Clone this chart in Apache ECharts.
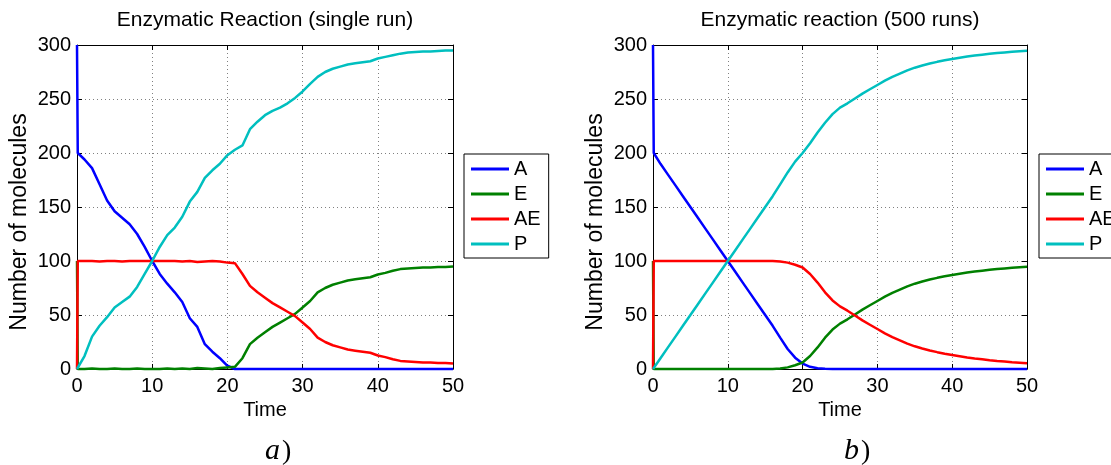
<!DOCTYPE html>
<html>
<head>
<meta charset="utf-8">
<title>Enzymatic reaction</title>
<script src="https://cdn.jsdelivr.net/npm/echarts@6/dist/echarts.min.js"></script>
<style>
  html, body { margin: 0; padding: 0; background: #fff; }
  #chart { width: 1111px; height: 465px; }
</style>
</head>
<body>
<div id="chart"></div>
<script>
// time samples (same for both runs)
const times = [0, 0.1, 1, 2, 3, 4, 5, 6, 7, 8, 9, 10, 11, 12, 13, 14, 15, 16, 17, 18, 19, 20,
  21, 22, 23, 24, 25, 26, 27, 28, 29, 30, 31, 32, 33, 34, 35, 36, 37, 38, 39, 40,
  41, 42, 43, 44, 45, 46, 47, 48, 49, 50]

const seriesNames = ['A', 'E', 'AE', 'P']
const seriesColors = ['#0000ff', '#008000', '#ff0000', '#00bfbf']

// a) single stochastic run
const singleA = [300, 200, 194, 186, 171, 156, 146, 140, 134, 125, 113, 100, 88, 79, 71, 62, 47, 39, 23, 16, 10, 3,
  0, 0, 0, 0, 0, 0, 0, 0, 0, 0, 0, 0, 0, 0, 0, 0, 0, 0, 0, 0,
  0, 0, 0, 0, 0, 0, 0, 0, 0, 0]
const singleE = [100, 0, 0, 0.5, 0, 0, 0.5, 0, 0, 0.5, 0, 0, 0, 0.5, 0, 0.5, 0, 1, 0.5, 0, 1, 1.5,
  2, 10, 23, 29, 34, 39, 43, 47, 51, 57, 63, 71, 75, 78, 80, 82, 83, 84, 85, 87.5,
  89, 91, 92.5, 93, 93.5, 94, 94, 94.5, 94.5, 95]
const singleAE = [0, 100, 100, 100, 99.5, 100, 100, 99.5, 100, 100, 100, 100, 100, 100, 100, 99.5, 100, 99, 99.5, 100, 99.5, 98.5,
  98, 88, 77, 71, 66, 61, 57, 53, 49, 43, 37, 29, 25, 22, 20, 18, 17, 16, 15, 12.5,
  11, 9, 7.5, 7, 6.5, 6, 6, 5.5, 5.5, 5]
const singleP = [0, 1, 12, 30, 40, 48, 57, 62, 67, 76, 88, 100, 113, 124, 131, 141, 155, 164, 177, 184, 190, 198,
  203, 207, 222, 229, 235, 239, 242, 246, 251, 257, 264, 270.5, 275, 278, 280, 282, 283, 284, 285, 287.5,
  289, 290.5, 292, 293, 293.5, 294, 294, 294.5, 295, 295]

// b) mean of 500 runs
const meanA = [300, 200, 190, 180, 170, 160, 150, 140, 130, 120, 110, 100, 90, 80, 70, 60, 50, 40, 29, 18.5, 10.5, 5,
  2, 0.7, 0.2, 0, 0, 0, 0, 0, 0, 0, 0, 0, 0, 0, 0, 0, 0, 0, 0, 0,
  0, 0, 0, 0, 0, 0, 0, 0, 0, 0]
const meanE = [100, 0, 0, 0, 0, 0, 0, 0, 0, 0, 0, 0, 0, 0, 0, 0, 0, 0, 0.5, 1.5, 3.5, 6,
  12, 20, 29, 36.5, 42, 46, 50.5, 55, 59, 63, 67, 70.5, 73.5, 76.5, 79, 81, 82.8, 84.4, 85.8, 87.1,
  88.2, 89.3, 90.2, 91, 91.8, 92.5, 93.1, 93.7, 94.2, 94.7]
const meanAE = [0, 100, 100, 100, 100, 100, 100, 100, 100, 100, 100, 100, 100, 100, 100, 100, 100, 100, 99.5, 98.5, 96.5, 94,
  88, 80, 71, 63.5, 58, 54, 49.5, 45, 41, 37, 33, 29.5, 26.5, 23.5, 21, 19, 17.2, 15.6, 14.2, 12.9,
  11.8, 10.7, 9.8, 9, 8.2, 7.5, 6.9, 6.3, 5.8, 5.3]
const meanP = [0, 0.5, 10, 20, 30, 40, 50, 60, 70, 80, 90, 100, 110, 120, 130, 140, 150, 160, 171, 182, 192, 200,
  209, 219, 228, 236, 242, 246, 250.5, 255, 259, 263, 267, 270.5, 273.5, 276.5, 279, 281, 282.8, 284.4, 285.8, 287.1,
  288.2, 289.3, 290.2, 291, 291.8, 292.5, 293.1, 293.7, 294.2, 294.7]

const xTicks = { min: 0, max: 50, interval: 10 }
const yTicks = { min: 0, max: 300, interval: 50 }

const font = '"Liberation Sans", Arial, sans-serif'
const black = '#000'

function xAxis(gridIndex, position) {
  const main = position === 'bottom'
  return {
    type: 'value',
    gridIndex,
    position,
    ...xTicks,
    name: main ? 'Time' : '',
    nameLocation: 'middle',
    nameGap: 26,
    nameTextStyle: { fontSize: 20, color: black, fontFamily: font },
    axisLine: { show: true, onZero: false, lineStyle: { color: black, width: 1 } },
    axisTick: { show: true, inside: true, length: 5, lineStyle: { color: black } },
    axisLabel: { show: main, fontSize: 20, color: black, fontFamily: font, margin: 7 },
    splitLine: { show: main, lineStyle: { color: '#808080', type: [1, 3], width: 1 } },
  }
}

function yAxis(gridIndex, position) {
  const main = position === 'left'
  return {
    type: 'value',
    gridIndex,
    position,
    ...yTicks,
    name: main ? 'Number of molecules' : '',
    nameLocation: 'middle',
    nameGap: 46,
    // right padding pushes the rotated label a bit lower, as in the original
    nameTextStyle: { fontSize: 23, color: black, fontFamily: font, padding: [0, 30, 0, 0] },
    axisLine: { show: true, onZero: false, lineStyle: { color: black, width: 1 } },
    axisTick: { show: true, inside: true, length: 5, lineStyle: { color: black } },
    axisLabel: { show: main, fontSize: 20, color: black, fontFamily: font, margin: 6 },
    splitLine: { show: main, lineStyle: { color: '#808080', type: [1, 3], width: 1 } },
  }
}

function lines(axisIndex, columns) {
  return columns.map((values, i) => ({
    type: 'line',
    name: seriesNames[i],
    xAxisIndex: axisIndex,
    yAxisIndex: axisIndex,
    data: times.map((t, k) => [t, values[k]]),
    showSymbol: false,
    symbol: 'none',
    clip: false,
    color: seriesColors[i],
    lineStyle: { color: seriesColors[i], width: 2.5 },
    emphasis: { disabled: true },
  }))
}

function legend(left) {
  return {
    data: seriesNames,
    orient: 'vertical',
    left,
    top: 154,
    icon: 'rect',
    itemWidth: 38,
    itemHeight: 3,
    itemGap: 5,
    itemTextGap: 4,
    padding: [5, 8, 4, 7],
    borderColor: black,
    borderWidth: 1,
    backgroundColor: '#fff',
    selectedMode: false,
    textStyle: { fontSize: 20, color: black, fontFamily: font, lineHeight: 20 },
  }
}

function title(text, center) {
  return {
    text,
    left: center,
    top: 10,
    textAlign: 'center',
    padding: 0,
    textStyle: { fontSize: 21, fontWeight: 'normal', color: black, fontFamily: font },
  }
}

function caption(letter, x) {
  return [
    { type: 'text', x, y: 451, style: { text: letter, font: 'italic 30px "Liberation Serif", serif', fill: black, verticalAlign: 'middle' } },
    { type: 'text', x: x + 17, y: 452, style: { text: ')', font: '28px "Liberation Serif", serif', fill: black, verticalAlign: 'middle' } },
  ]
}

const chart = echarts.init(document.getElementById('chart'))

chart.setOption({
  animation: false,
  backgroundColor: '#fff',
  title: [
    title('Enzymatic Reaction (single run)', 265),
    title('Enzymatic reaction (500 runs)', 840),
  ],
  legend: [legend(464), legend(1039)],
  grid: [
    { left: 77, top: 45, width: 376, height: 324 },
    { left: 653, top: 45, width: 374, height: 324 },
  ],
  xAxis: [xAxis(0, 'bottom'), xAxis(0, 'top'), xAxis(1, 'bottom'), xAxis(1, 'top')],
  yAxis: [yAxis(0, 'left'), yAxis(0, 'right'), yAxis(1, 'left'), yAxis(1, 'right')],
  graphic: [...caption('a', 265), ...caption('b', 844)],
  series: [
    ...lines(0, [singleA, singleE, singleAE, singleP]),
    ...lines(2, [meanA, meanE, meanAE, meanP]),
  ],
})

window.addEventListener('resize', () => chart.resize())
</script>
</body>
</html>
